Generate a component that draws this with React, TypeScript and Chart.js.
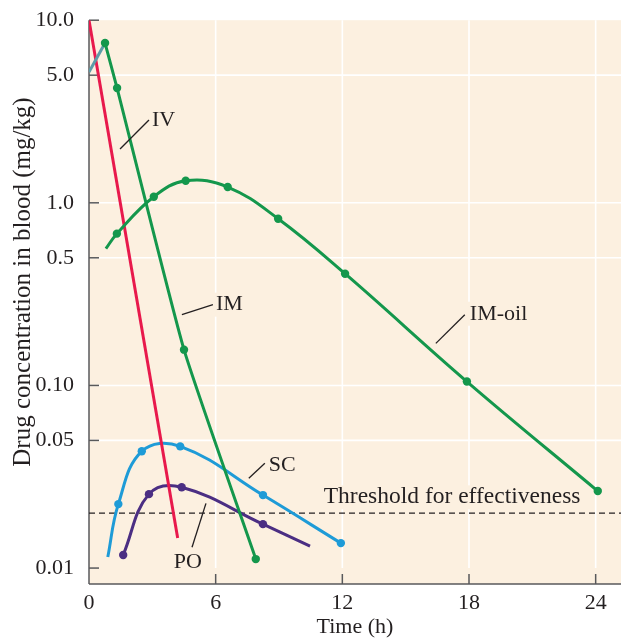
import React, { useEffect, useRef } from "react";
import { Chart, registerables } from "chart.js";

Chart.register(...registerables);

// ---- axes ----
const X_MIN = 0;
const X_MAX = 25.2;
const X_TICKS = [0, 6, 12, 18, 24];
const X_GRID = [6, 12, 18, 24];
const Y_MIN = 0.00818;
const Y_MAX = 10;
const Y_TICKS = [10, 5, 1, 0.5, 0.1, 0.05, 0.01];
const Y_TICK_LABELS = ["10.0", "5.0", "1.0", "0.5", "0.10", "0.05", "0.01"];
const Y_GRID = [5, 1, 0.5, 0.1, 0.05];
const X_TITLE = "Time (h)";
const Y_TITLE = "Drug concentration in blood (mg/kg)";

// ---- series (time in h, concentration in mg/kg) ----
const IV_T = [0, 4.2];
const IV_C = [10, 0.0146];

const IM_LEAD_T = [0, 0.76];
const IM_LEAD_C = [5.2, 7.5];

const IM_T = [0.76, 1.33, 4.5, 7.9];
const IM_C = [7.5, 4.25, 0.157, 0.0112];
const IM_MARK = [true, true, true, true];

const IMOIL_T = [0.8, 1.32, 3.07, 4.58, 6.57, 8.96, 12.13, 17.9, 24.1];
const IMOIL_C = [0.561, 0.678, 1.08, 1.32, 1.22, 0.818, 0.409, 0.105, 0.0264];
const IMOIL_MARK = [false, true, true, true, true, true, true, true, true];

const SC_T = [0.89, 1.39, 2.5, 4.32, 8.24, 11.93];
const SC_C = [0.0115, 0.0224, 0.0436, 0.0464, 0.0251, 0.0137];
const SC_MARK = [false, true, true, true, true, true];

const PO_T = [1.62, 2.84, 4.39, 8.24, 10.47];
const PO_C = [0.0118, 0.0254, 0.0277, 0.0174, 0.0132];
const PO_MARK = [true, true, true, true, false];

const THRESHOLD = 0.02;

// ---- annotations (data coordinates) ----
const LABEL_TEXT = ["IV", "IM", "IM-oil", "SC", "PO"];
const LABEL_T = [2.98, 6.01, 18.04, 8.52, 4.02];
const LABEL_C = [2.84, 0.277, 0.247, 0.0366, 0.0108];
const LEADER_T1 = [1.47, 4.4, 16.43, 7.57, 4.88];
const LEADER_C1 = [1.97, 0.244, 0.17, 0.031, 0.013];
const LEADER_T2 = [2.84, 5.87, 17.8, 8.33, 5.54];
const LEADER_C2 = [2.84, 0.277, 0.244, 0.0375, 0.0226];
const THRESHOLD_LABEL = "Threshold for effectiveness";
const THRESHOLD_LABEL_T = 11.12;
const THRESHOLD_LABEL_C = 0.0244;

// ---- styles ----
const FONT = '"Liberation Serif", "Times New Roman", serif';
const BG = "#FCF0E0";
const TEXT = "#231F20";
const AXIS = "#58595B";
const RED = "#E8194C";
const GREEN = "#14974C";
const TEAL = "#5E9CA8";
const BLUE = "#1E9BD7";
const PURPLE = "#4B2E83";

const pts = (t: number[], c: number[]) => t.map((x, i) => ({ x, y: c[i] }));
const radii = (m: boolean[]) => m.map((b) => (b ? 4.2 : 0));

export default function App() {
  const ref = useRef<HTMLCanvasElement | null>(null);

  useEffect(() => {
    document.body.style.margin = "0";
    const canvas = ref.current;
    if (!canvas) return;

    const line = (ctx: CanvasRenderingContext2D, x1: number, y1: number, x2: number, y2: number) => {
      ctx.beginPath();
      ctx.moveTo(x1, y1);
      ctx.lineTo(x2, y2);
      ctx.stroke();
    };

    const decor = {
      id: "decor",
      beforeDraw(chart: any) {
        const { ctx, chartArea: a } = chart;
        ctx.save();
        ctx.fillStyle = "#ffffff";
        ctx.fillRect(0, 0, chart.width, chart.height);
        ctx.fillStyle = BG;
        ctx.fillRect(a.left, a.top, a.right - a.left, a.bottom - a.top);
        ctx.restore();
      },
      beforeDatasetsDraw(chart: any) {
        const { ctx, chartArea: a } = chart;
        const x = chart.scales.x;
        const y = chart.scales.y;
        ctx.save();
        // grid
        ctx.strokeStyle = "#ffffff";
        ctx.lineWidth = 1.6;
        const yLow = y.getPixelForValue(Y_TICKS[Y_TICKS.length - 1]);
        X_GRID.forEach((v) => {
          const px = x.getPixelForValue(v);
          line(ctx, px, a.top, px, yLow);
        });
        Y_GRID.forEach((v) => {
          const py = y.getPixelForValue(v);
          line(ctx, a.left, py, a.right, py);
        });
        // label backgrounds
        ctx.fillStyle = BG;
        ctx.font = `22px ${FONT}`;
        LABEL_TEXT.forEach((s, i) => {
          const px = x.getPixelForValue(LABEL_T[i]);
          const py = y.getPixelForValue(LABEL_C[i]);
          const w = ctx.measureText(s).width;
          ctx.fillRect(px - 3, py - 12, w + 6, 24);
        });
        ctx.font = `23.5px ${FONT}`;
        {
          const px = x.getPixelForValue(THRESHOLD_LABEL_T);
          const py = y.getPixelForValue(THRESHOLD_LABEL_C);
          const w = ctx.measureText(THRESHOLD_LABEL).width;
          ctx.fillRect(px - 3, py - 12, w + 6, 24);
        }
        // tick marks (inside)
        ctx.strokeStyle = AXIS;
        ctx.lineWidth = 1.5;
        Y_TICKS.forEach((v) => {
          const py = y.getPixelForValue(v);
          line(ctx, a.left, py, a.left + 10, py);
        });
        X_TICKS.filter((v) => v > X_MIN).forEach((v) => {
          const px = x.getPixelForValue(v);
          line(ctx, px, a.bottom, px, a.bottom - 10);
        });
        // axes
        line(ctx, a.left, a.top, a.left, a.bottom);
        line(ctx, a.left, a.bottom, a.right, a.bottom);
        ctx.restore();
      },
      afterDatasetsDraw(chart: any) {
        const { ctx } = chart;
        const x = chart.scales.x;
        const y = chart.scales.y;
        ctx.save();
        ctx.strokeStyle = TEXT;
        ctx.lineWidth = 1.3;
        LABEL_TEXT.forEach((_, i) => {
          line(
            ctx,
            x.getPixelForValue(LEADER_T1[i]),
            y.getPixelForValue(LEADER_C1[i]),
            x.getPixelForValue(LEADER_T2[i]),
            y.getPixelForValue(LEADER_C2[i])
          );
        });
        ctx.fillStyle = TEXT;
        ctx.textBaseline = "middle";
        ctx.textAlign = "left";
        ctx.font = `22px ${FONT}`;
        LABEL_TEXT.forEach((s, i) => {
          ctx.fillText(s, x.getPixelForValue(LABEL_T[i]), y.getPixelForValue(LABEL_C[i]));
        });
        ctx.font = `23.5px ${FONT}`;
        ctx.fillText(
          THRESHOLD_LABEL,
          x.getPixelForValue(THRESHOLD_LABEL_T),
          y.getPixelForValue(THRESHOLD_LABEL_C)
        );
        ctx.restore();
      },
      afterDraw(chart: any) {
        const { ctx } = chart;
        ctx.save();
        ctx.fillStyle = TEXT;
        ctx.font = `25px ${FONT}`;
        ctx.textAlign = "center";
        ctx.textBaseline = "middle";
        ctx.translate(23, 282);
        ctx.rotate(-Math.PI / 2);
        ctx.fillText(Y_TITLE, 0, 0);
        ctx.restore();
      },
    };

    const base = {
      fill: false,
      borderWidth: 3,
      pointBorderWidth: 0,
      pointHoverRadius: 0,
      showLine: true,
    };

    const chart = new Chart(canvas, {
      type: "line",
      data: {
        datasets: [
          {
            ...base,
            label: "IM-oil",
            data: pts(IMOIL_T, IMOIL_C),
            borderColor: GREEN,
            backgroundColor: GREEN,
            pointRadius: radii(IMOIL_MARK),
            tension: 0.4,
            order: 0,
          },
          {
            ...base,
            label: "IM",
            data: pts(IM_T, IM_C),
            borderColor: GREEN,
            backgroundColor: GREEN,
            pointRadius: radii(IM_MARK),
            tension: 0.15,
            order: 1,
          },
          {
            ...base,
            label: "IM lead",
            data: pts(IM_LEAD_T, IM_LEAD_C),
            borderColor: TEAL,
            backgroundColor: TEAL,
            pointRadius: 0,
            tension: 0,
            order: 2,
          },
          {
            ...base,
            label: "IV",
            data: pts(IV_T, IV_C),
            borderColor: RED,
            backgroundColor: RED,
            pointRadius: 0,
            tension: 0,
            order: 3,
          },
          {
            ...base,
            label: "SC",
            data: pts(SC_T, SC_C),
            borderColor: BLUE,
            backgroundColor: BLUE,
            pointRadius: radii(SC_MARK),
            tension: 0.4,
            order: 4,
          },
          {
            ...base,
            label: "PO",
            data: pts(PO_T, PO_C),
            borderColor: PURPLE,
            backgroundColor: PURPLE,
            pointRadius: radii(PO_MARK),
            tension: 0.4,
            order: 5,
          },
          {
            ...base,
            label: "Threshold",
            data: [
              { x: X_MIN, y: THRESHOLD },
              { x: X_MAX, y: THRESHOLD },
            ],
            borderColor: TEXT,
            backgroundColor: TEXT,
            borderWidth: 1.3,
            borderDash: [6, 4],
            pointRadius: 0,
            tension: 0,
            order: 6,
          },
        ],
      },
      options: {
        animation: false,
        responsive: false,
        maintainAspectRatio: false,
        devicePixelRatio: 1,
        layout: { autoPadding: false, padding: { top: 19, left: 0, right: 0, bottom: 0 } },
        plugins: {
          legend: { display: false },
          tooltip: { enabled: false },
          title: { display: false },
        },
        scales: {
          x: {
            type: "linear",
            min: X_MIN,
            max: X_MAX,
            grid: { display: false },
            border: { display: false },
            afterBuildTicks: (s: any) => {
              s.ticks = X_TICKS.map((v) => ({ value: v }));
            },
            afterFit: (s: any) => {
              s.height = 55;
              s.paddingLeft = 0;
              s.paddingRight = 0;
            },
            ticks: {
              padding: 0,
              color: TEXT,
              autoSkip: false,
              maxRotation: 0,
              font: { family: FONT, size: 22, lineHeight: 1.0 },
              callback: (v: any) => String(v),
            },
            title: {
              display: true,
              text: X_TITLE,
              color: TEXT,
              font: { family: FONT, size: 22, lineHeight: 1.2 },
              padding: { top: 0, bottom: -1 },
            },
          },
          y: {
            type: "logarithmic",
            min: Y_MIN,
            max: Y_MAX,
            grid: { display: false },
            border: { display: false },
            afterBuildTicks: (s: any) => {
              s.ticks = Y_TICKS.map((v) => ({ value: v }));
            },
            afterFit: (s: any) => {
              s.width = 89;
            },
            ticks: {
              padding: 7,
              color: TEXT,
              autoSkip: false,
              font: { family: FONT, size: 22, lineHeight: 1.2 },
              callback: (v: any) => {
                const i = Y_TICKS.findIndex((t) => Math.abs(t - Number(v)) < 1e-9);
                return i >= 0 ? Y_TICK_LABELS[i] : "";
              },
            },
          },
        },
      },
      plugins: [decor],
    } as any);

    return () => chart.destroy();
  }, []);

  return (
    <div style={{ width: 621, height: 639 }}>
      <canvas ref={ref} width={621} height={639} style={{ display: "block" }} />
    </div>
  );
}
